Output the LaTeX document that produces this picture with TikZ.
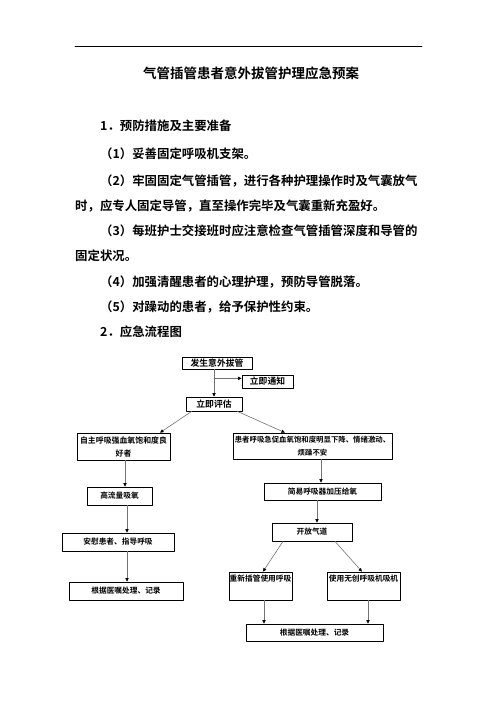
\documentclass[tikz,border=0pt]{standalone}
\usepackage{fontspec}
\setmainfont{Noto Sans CJK SC}[BoldFont={Noto Sans CJK SC Bold}]
\usetikzlibrary{arrows.meta,calc}

\tikzset{
    txt/.style={anchor=west,inner sep=0pt,font=\bfseries\fontsize{12.4}{14}\selectfont},
    box/.style={draw=black,line width=0.7pt,inner sep=0pt,align=center,font=\bfseries\fontsize{7.7}{13}\selectfont},
    bigbox/.style={box,font=\bfseries\fontsize{8.8}{12}\selectfont},
    link/.style={draw=black!55,line width=0.6pt,-{Triangle[color=black,length=3.5pt,width=3.2pt]}},
}

\begin{document}
\begin{tikzpicture}[line cap=round,line join=round,x=1pt,y=-1pt]
                \useasboundingbox[fill=white] (0,0) rectangle (496,702);
                \draw [line width=0.8pt] (75,46)-- (422,46);
                % text of the plan
                \node[txt,anchor=center,font=\bfseries\fontsize{13.5}{15}\selectfont] (title) at (251,73) {气管插管患者意外拔管护理应急预案};
                \node[txt] (sec1) at (100,126) {1．预防措施及主要准备};
                \node[txt] (item1) at (100,154) {（1）妥善固定呼吸机支架。};
                \node[txt] (item2) at (100,181) {（2）牢固固定气管插管，进行各种护理操作时及气囊放气};
                \node[txt] (item2b) at (75,206) {时，应专人固定导管，直至操作完毕及气囊重新充盈好。};
                \node[txt] (item3) at (100,231) {（3）每班护士交接班时应注意检查气管插管深度和导管的};
                \node[txt] (item3b) at (75,256) {固定状况。};
                \node[txt] (item4) at (100,282) {（4）加强清醒患者的心理护理，预防导管脱落。};
                \node[txt] (item5) at (100,307) {（5）对躁动的患者，给予保护性约束。};
                \node[txt] (sec2) at (100,332) {2．应急流程图};
                % flow chart
                \node[bigbox,minimum width=70pt,minimum height=12pt] (start) at (217,363) {发生意外拔管};
                \node[bigbox,minimum width=51pt,minimum height=13pt] (notify) at (267.5,381.5) {立即通知};
                \node[bigbox,minimum width=56pt,minimum height=14pt] (assess) at (214,404) {立即评估};
                \node[box,minimum width=93pt,minimum height=27pt,font=\bfseries\fontsize{7.9}{13}\selectfont] (mild) at (123.5,446.5) {自主呼吸强血氧饱和度良\\好者};
                \node[box,minimum width=159pt,minimum height=26pt,font=\bfseries\fontsize{7.4}{13}\selectfont] (severe) at (312.5,446) {患者呼吸急促血氧饱和度明显下降、情绪激动、\\烦躁不安};
                \node[box,minimum width=65pt,minimum height=18pt] (oxygen) at (119.5,496) {高流量吸氧};
                \node[box,minimum width=112pt,minimum height=18pt] (comfort) at (118,542) {安慰患者、指导呼吸};
                \node[box,minimum width=114pt,minimum height=18pt] (recordL) at (126,591) {根据医嘱处理、记录};
                \node[box,minimum width=117pt,minimum height=17pt] (bag) at (322.5,491.5) {简易呼吸器加压给氧};
                \node[box,minimum width=80pt,minimum height=18pt] (airway) at (312,532) {开放气道};
                \node[box,minimum width=63pt,minimum height=28pt,label={[box,draw=none,anchor=north,yshift=-3pt]north:重新插管使用呼吸}] (reintub) at (260.5,586) {};
                \node[box,minimum width=73pt,minimum height=28pt,label={[box,draw=none,anchor=north,yshift=-3pt]north:使用无创呼吸机吸机}] (niv) at (363.5,586) {};
                \node[box,minimum width=137pt,minimum height=17pt] (recordR) at (314.5,632.5) {根据医嘱处理、记录};
                \coordinate (split) at ($(start.south -| assess.north)+(0,9)$);
                \draw [link] (start.south -| assess.north)-- (assess.north);
                \draw [link] (split)-- (split -| notify.west);
                \draw [link] ([xshift=6pt]assess.south west)-- ([xshift=36.5pt]mild.north);
                \draw [link] ([xshift=-5pt]assess.south east)-- ([xshift=-27.5pt]severe.north);
                \draw [link] ([xshift=1.5pt]mild.south)-- ([xshift=1.5pt]mild.south |- oxygen.north);
                \draw [link] ([xshift=7.5pt]oxygen.south)-- ([xshift=7.5pt]oxygen.south |- comfort.north);
                \draw [link] ([xshift=9pt]comfort.south)-- ([xshift=9pt]comfort.south |- recordL.north);
                \draw [link] ([xshift=-1.5pt]bag.north |- severe.south)-- ([xshift=-1.5pt]bag.north);
                \draw [link] ([xshift=5pt]airway.north |- bag.south)-- ([xshift=5pt]airway.north);
                \draw [link] ([xshift=-29pt]airway.south)-- ([xshift=2.5pt]reintub.north);
                \draw [link] ([xshift=23pt]airway.south)-- ([xshift=-1.5pt]niv.north);
                \draw [link] ([xshift=3.5pt]reintub.south)-- ([xshift=3.5pt]reintub.south |- recordR.north);
                \draw [link] ([xshift=4.5pt]niv.south)-- ([xshift=4.5pt]niv.south |- recordR.north);
            \end{tikzpicture}
\end{document}
